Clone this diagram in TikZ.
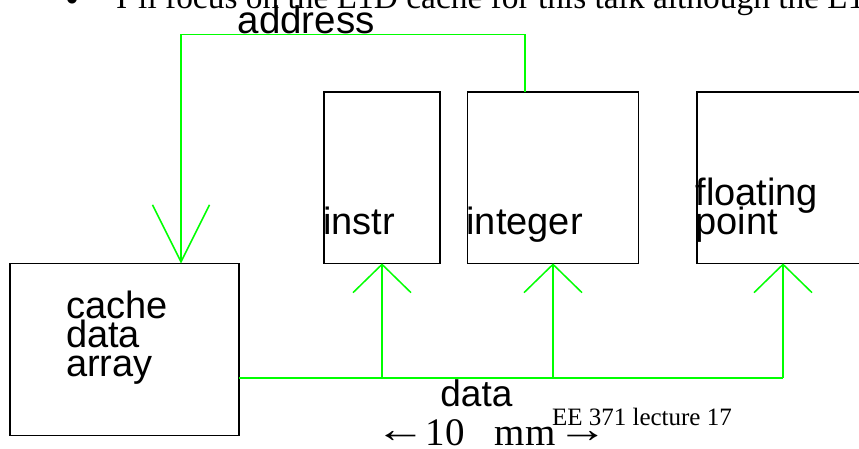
\documentclass[tikz,border=0pt]{standalone}
\usepackage{fontspec}
\setmainfont{Liberation Serif}
\newfontfamily\arialfont{Liberation Sans}
\usetikzlibrary{arrows.meta}
\definecolor{wiregreen}{RGB}{0,255,0}
% wide, thin text arrows for the scale note
\newcommand{\wideglyph}[1]{\raisebox{3pt}{\scalebox{1.3}[1]{#1}}}

\begin{document}
\begin{tikzpicture}[x=1pt,y=-1pt,
  unitbox/.style={draw=black, line width=1.5pt, inner sep=0pt, outer sep=0pt,
    anchor=north west, minimum width=#1, minimum height=171.3pt},
  lbl/.style={inner sep=0pt, outer sep=0pt, anchor=base west,
    font=\arialfont\fontsize{38}{29}\selectfont},
  wire/.style={draw=wiregreen, line width=1.5pt},
  busarrow/.style={-{Straight Barb[length=28.3pt,width=58pt]}},
  addrarrow/.style={-{Straight Barb[length=57pt,width=57pt]}},
  slidetext/.style={inner sep=0pt, outer sep=0pt, anchor=base west,
    font=\fontsize{33.4}{40}\selectfont}
]
\useasboundingbox (0,0) rectangle (859,448);
\clip (0,0) rectangle (859,448);

% slide text above the figure
\node[inner sep=0pt, anchor=base, font=\fontsize{40}{40}\selectfont] (bullet) at (72.8,12.6) {•};
\node[slidetext] (headline) at (116,8) {I’ll focus on the L1D cache for this talk although the L1};

% functional blocks
\node[unitbox=229pt, minimum height=172pt] (cache) at (10,263.5) {};
\node[unitbox=116pt] (instr) at (324,92) {};
\node[unitbox=171pt] (integer) at (467.5,92) {};
\node[unitbox=172pt] (fp) at (697,92) {};

% block labels
\node[lbl] (cacheA) at (66,318.3) {cache};
\node[lbl] (cacheB) at (66,347.7) {data};
\node[lbl] (cacheC) at (66,376.7) {array};
\node[lbl] (instrlbl) at (323,234) {instr};
\node[lbl] (intlbl) at (466.5,234) {integer};
\node[lbl] (fplblA) at (695.5,205) {floating};
\node[lbl] (fplblB) at (695.5,234) {point};

% address path: integer unit back to the cache
\coordinate (addrsrc) at ([xshift=57.5pt]integer.north west);
\coordinate (addrturn) at (181,34.7);
\coordinate (cachein) at ([xshift=171pt]cache.north west);
\draw[wire, addrarrow] (addrsrc) |- (addrturn) -- (cachein);
\node[lbl, font=\arialfont\fontsize{38.5}{38}\selectfont] (addrlbl) at (237.6,33.5) {address};

% data bus from the cache to the three units
\coordinate (busy) at (0,378);
\coordinate (busend) at (fp.south |- busy);
\draw[wire] (cache.east |- busy) -- (busend);
\draw[wire, busarrow] (busend) -- (fp.south);
\draw[wire, busarrow] (instr.south |- busy) -- (instr.south);
\draw[wire, busarrow] (integer.south |- busy) -- (integer.south);
\node[lbl, font=\arialfont\fontsize{37}{37}\selectfont] (datalbl) at (440.4,406.7) {data};

% scale note and footer
\node[slidetext, font=\fontsize{39}{39}\selectfont] (scale) at (375,445)
  {\wideglyph{←}10\hspace{30pt}mm\hspace{2pt}\wideglyph{→}};
\node[slidetext, font=\fontsize{25}{25}\selectfont] (footer) at (552,425) {EE 371 lecture 17};
\end{tikzpicture}
\end{document}
